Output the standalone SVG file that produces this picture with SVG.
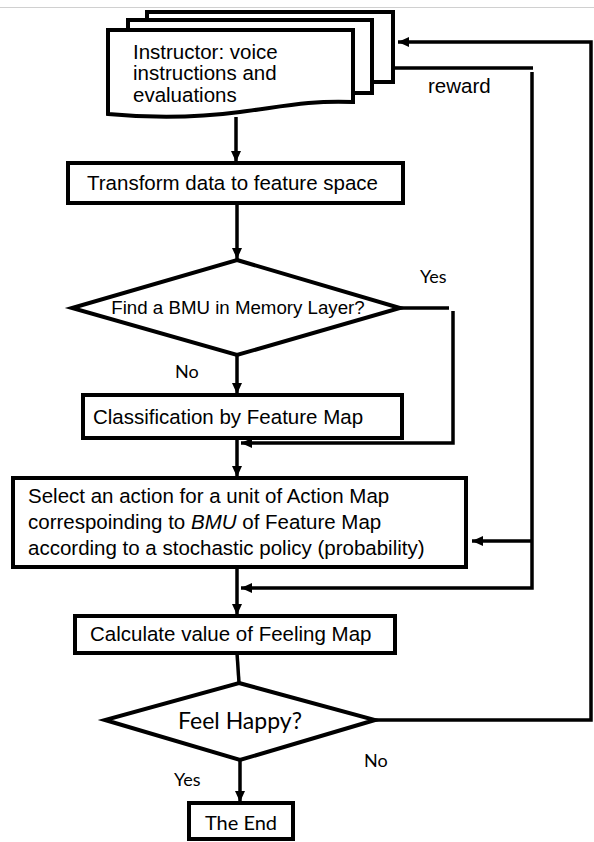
<svg xmlns="http://www.w3.org/2000/svg" width="594" height="842" viewBox="0 0 594 842">
<defs>
<marker id="arr" markerUnits="userSpaceOnUse" markerWidth="12" markerHeight="12" viewBox="0 0 12 12" refX="11" refY="6" orient="auto">
<path d="M0,1 L11,6 L0,11 Z" fill="#000"/>
</marker>
<style>
.box{fill:#fff;stroke:#000;stroke-width:4}
.c{fill:none;stroke:#000;stroke-width:3.5}
.t{font-family:"Liberation Sans",Arial,sans-serif;font-size:20.5px;fill:#000}
.l{font-family:Lato,"Liberation Sans",sans-serif;font-size:18px;fill:#000}
</style>
</defs>
<rect width="594" height="842" fill="#fff"/>
<line x1="0" y1="7.5" x2="594" y2="7.5" stroke="#d0d0d0" stroke-width="1"/>

<g id="connectors">
<line class="c" x1="236" y1="117" x2="236" y2="162" marker-end="url(#arr)"/>
<line class="c" x1="237" y1="203" x2="237" y2="259" marker-end="url(#arr)"/>
<line class="c" x1="237" y1="355" x2="237" y2="394" marker-end="url(#arr)"/>
<polyline class="c" points="400,308 449,308"/>
<polyline class="c" points="453,311 453,443 241,443" marker-end="url(#arr)"/>
<line class="c" x1="237" y1="438" x2="237" y2="477" marker-end="url(#arr)"/>
<line class="c" x1="237" y1="567" x2="237" y2="615" marker-end="url(#arr)"/>
<polyline class="c" points="393,68 533,68"/>
<polyline class="c" points="532,72 532,588 241,588" marker-end="url(#arr)"/>
<line class="c" x1="532" y1="541" x2="472" y2="541" marker-end="url(#arr)"/>
<line class="c" x1="237" y1="653" x2="239" y2="683"/>
<line class="c" x1="240" y1="760" x2="240" y2="802" marker-end="url(#arr)"/>
<polyline class="c" points="375,720 591,720 591,42 398,42" marker-end="url(#arr)"/>
</g>

<g id="instructor">
<rect class="box" x="147" y="12" width="246" height="70"/>
<rect class="box" x="128" y="20" width="244" height="73"/>
<path class="box" d="M108,30 H353 V102 C310,100 280,107 240,112 C195,118 150,118 108,114 Z"/>
<text class="t" x="133" y="59">Instructor: voice</text>
<text class="t" x="133" y="80">instructions and</text>
<text class="t" x="133" y="102">evaluations</text>
</g>

<g id="reward-label">
<text class="t" x="428" y="93">reward</text>
</g>

<g id="transform">
<rect class="box" x="68" y="163" width="335" height="40"/>
<text class="t" x="87" y="190">Transform data to feature space</text>
</g>

<g id="bmu">
<polygon class="box" points="237,260 400,308 237,355 72,308"/>
<text class="t" x="238" y="314" text-anchor="middle" style="font-size:18.7px">Find a BMU in Memory Layer?</text>
<text class="l" x="420" y="283">Yes</text>
<text class="l" x="175" y="378">No</text>
</g>

<g id="classification">
<rect class="box" x="83" y="395" width="319" height="43"/>
<text class="t" x="93" y="424">Classification by Feature Map</text>
</g>

<g id="select">
<rect class="box" x="13" y="478" width="453" height="89"/>
<text class="t" x="28" y="503">Select an action for a unit of Action Map</text>
<text class="t" x="28" y="529">correspoinding to <tspan font-style="italic">BMU</tspan> of Feature Map</text>
<text class="t" x="28" y="555">according to a stochastic policy (probability)</text>
</g>

<g id="calculate">
<rect class="box" x="75" y="616" width="320" height="37"/>
<text class="t" x="90" y="641">Calculate value of Feeling Map</text>
</g>

<g id="happy">
<polygon class="box" points="239,683 375,720 240,760 105,720"/>
<text class="l" x="240" y="729" text-anchor="middle" style="font-size:23px">Feel Happy?</text>
<text class="l" x="174" y="786">Yes</text>
<text class="l" x="364" y="767">No</text>
</g>

<g id="end">
<rect class="box" x="189" y="803" width="104" height="36"/>
<text class="l" x="241" y="830" text-anchor="middle" style="font-size:20px">The End</text>
</g>
</svg>
